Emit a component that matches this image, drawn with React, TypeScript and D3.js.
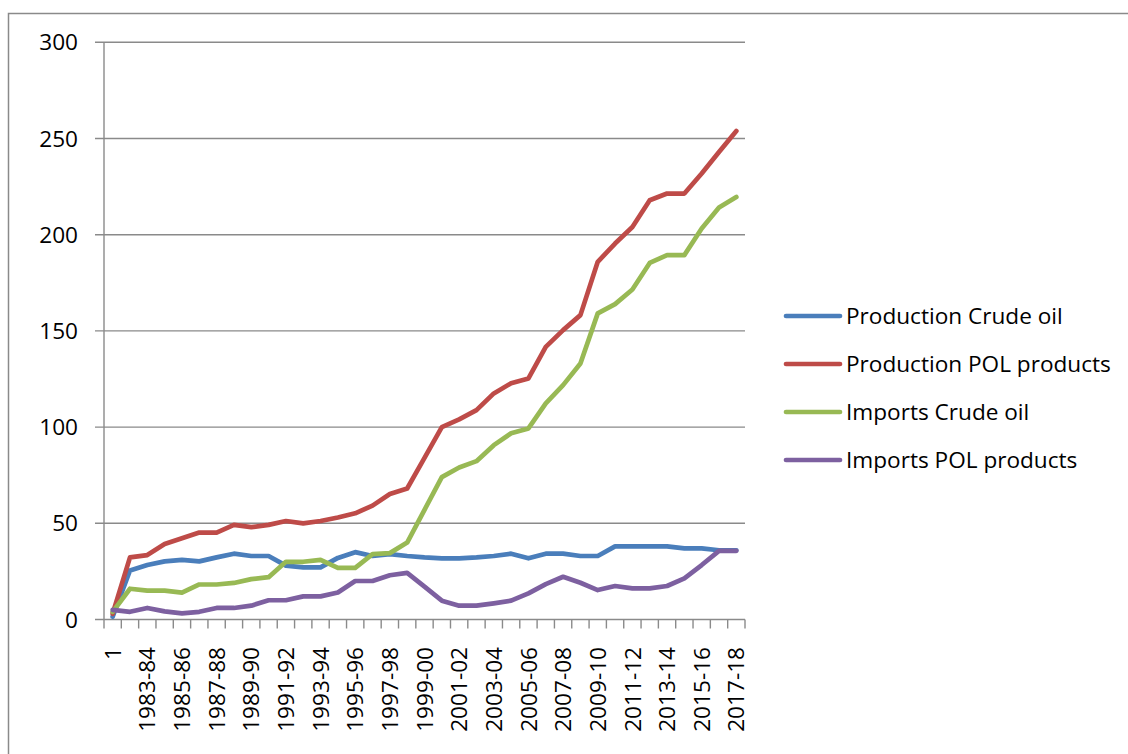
import React from "react";
import * as d3 from "d3";

const categories = [
  "1", "1982-83", "1983-84", "1984-85", "1985-86", "1986-87", "1987-88", "1988-89",
  "1989-90", "1990-91", "1991-92", "1992-93", "1993-94", "1994-95", "1995-96", "1996-97",
  "1997-98", "1998-99", "1999-00", "2000-01", "2001-02", "2002-03", "2003-04", "2004-05",
  "2005-06", "2006-07", "2007-08", "2008-09", "2009-10", "2010-11", "2011-12", "2012-13",
  "2013-14", "2014-15", "2015-16", "2016-17", "2017-18",
];

const productionCrude = [
  1.5, 25.5, 28.3, 30.2, 31, 30.2, 32.3, 34.2, 33, 33, 28, 27.1, 27.1, 32, 35, 33,
  34, 33, 32.3, 31.8, 31.8, 32.3, 33, 34.2, 31.8, 34.2, 34.2, 33, 33, 38, 38, 38,
  38, 37, 37, 36, 36,
];

const productionPOL = [
  3, 32.3, 33.5, 39.2, 42.2, 45.2, 45.2, 49.2, 48, 49.2, 51.2, 50, 51.2, 53, 55.2, 59.2,
  65.2, 68.1, 84, 100, 104, 108.8, 117.5, 122.8, 125.3, 141.7, 150.4, 158.2, 185.9, 195.4, 204, 217.9,
  221.4, 221.4, 231.8, 243, 253.9,
];

const importsCrude = [
  4, 16, 15, 15, 14, 18.2, 18.2, 19, 21, 22, 30, 30, 31, 26.8, 26.8, 34,
  34.5, 40, 57, 74, 79, 82.3, 90.6, 96.8, 99.3, 112.3, 121.8, 133.1, 159.1, 163.9, 171.5, 185.3,
  189.4, 189.4, 203.2, 214.1, 219.6,
];

const importsPOL = [
  5, 4, 6, 4.2, 3.2, 4, 6, 6, 7.2, 10, 10, 12, 12, 14, 20, 20,
  23, 24.2, 17.1, 9.8, 7.2, 7.2, 8.4, 9.8, 13.6, 18.4, 22.2, 19.1, 15.3, 17.4, 16.2, 16.2,
  17.4, 21.4, 28.3, 35.7, 35.7,
];

const seriesNames = [
  "Production Crude oil",
  "Production POL products",
  "Imports Crude oil",
  "Imports POL products",
];
const seriesColors = ["#4A7EBB", "#BE4B48", "#98B954", "#7D60A0"];
const seriesValues = [productionCrude, productionPOL, importsCrude, importsPOL];

const yTicks = [0, 50, 100, 150, 200, 250, 300];

const FONT = "'Open Sans', 'Noto Sans', sans-serif";
const GRID = "#8A8A8A";
const FS = 22.6;

export default function App() {
  const x0 = 104;
  const x1 = 745;
  const band = d3.scaleBand<string>().domain(categories).range([x0, x1]).padding(0);
  const xPoint = d3.scalePoint<string>().domain(categories).range([x0, x1]).padding(0.5);
  const y = d3.scaleLinear().domain([0, 300]).range([619.5, 42.3]);

  const line = d3
    .line<number>()
    .x((_, i) => xPoint(categories[i]) as number)
    .y((d) => y(d));

  const boundaries = categories.map((c) => band(c) as number).concat([x1]);

  const legendX0 = 786;
  const legendX1 = 840;
  const legendY = [316, 364, 412, 460];

  return (
    <svg
      width={1128}
      height={754}
      style={{ position: "absolute", left: 0, top: 0, background: "#fff" }}
      fontFamily={FONT}
    >
      <rect x={0} y={0} width={1128} height={754} fill="#fff" />
      <rect x={8.5} y={13.5} width={1140} height={770} fill="none" stroke={GRID} strokeWidth={1.5} />

      {yTicks.map((t) => (
        <line key={"g" + t} x1={95} x2={x1} y1={y(t)} y2={y(t)} stroke={GRID} strokeWidth={1.4} />
      ))}
      <line x1={x0} x2={x0} y1={y(300)} y2={y(0)} stroke={GRID} strokeWidth={1.4} />
      {boundaries.map((b, i) => (
        <line key={"t" + i} x1={b} x2={b} y1={y(0)} y2={y(0) + 9} stroke={GRID} strokeWidth={1.4} />
      ))}

      {yTicks.map((t) => (
        <text
          key={"yl" + t}
          x={78}
          y={y(t)}
          dy="0.36em"
          textAnchor="end"
          fontSize={FS}
          fill="#000"
        >
          {t}
        </text>
      ))}

      {categories.map((c, i) =>
        i === 0 || i % 2 === 0 ? (
          <text
            key={"xl" + c}
            transform={`translate(${xPoint(c)},647) rotate(-90)`}
            dy="0.36em"
            textAnchor="end"
            fontSize={FS}
            fill="#000"
          >
            {c}
          </text>
        ) : null
      )}

      {seriesValues.map((vals, k) => (
        <path
          key={"s" + k}
          d={line(vals) || ""}
          fill="none"
          stroke={seriesColors[k]}
          strokeWidth={4.7}
          strokeLinejoin="round"
          strokeLinecap="round"
        />
      ))}

      {seriesNames.map((n, k) => (
        <g key={"lg" + k}>
          <line
            x1={legendX0}
            x2={legendX1}
            y1={legendY[k]}
            y2={legendY[k]}
            stroke={seriesColors[k]}
            strokeWidth={4.7}
            strokeLinecap="round"
          />
          <text x={846} y={legendY[k]} dy="0.36em" fontSize={FS} fill="#000">
            {n}
          </text>
        </g>
      ))}
    </svg>
  );
}
